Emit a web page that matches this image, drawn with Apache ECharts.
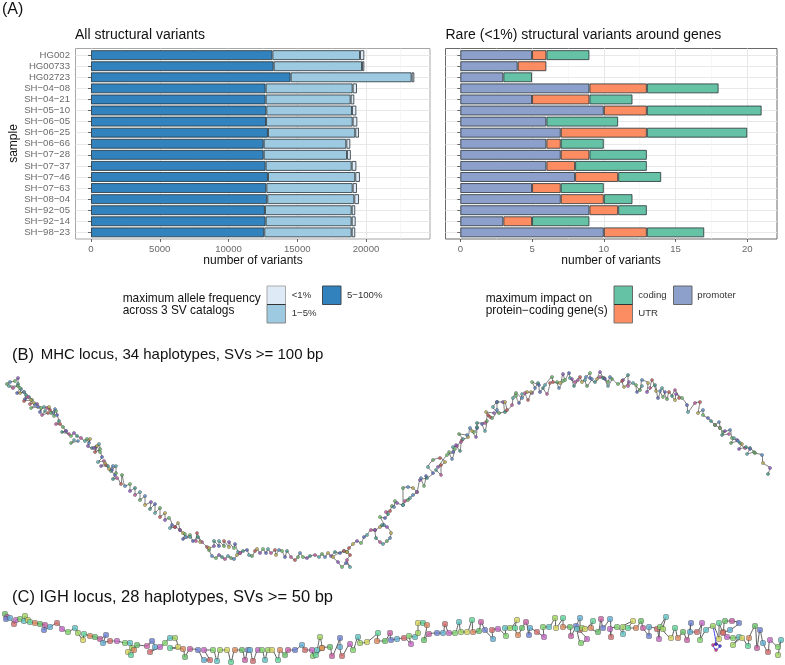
<!DOCTYPE html>
<html><head><meta charset="utf-8">
<style>html,body{margin:0;padding:0;background:#fff}#c{width:785px;height:665px}</style>
<script src="https://cdn.jsdelivr.net/npm/echarts@6/dist/echarts.min.js"></script>
</head><body><div id="c"></div>
<script>
const samples = ['HG002','HG00733','HG02723','SH−04−08','SH−04−21','SH−05−10','SH−06−05','SH−06−25','SH−06−66','SH−07−28','SH−07−37','SH−07−46','SH−07−63','SH−08−04','SH−92−05','SH−92−14','SH−98−23'];
const afCommon = [13190,13285,14520,12700,12700,12750,12730,12870,12560,12560,12700,12870,12750,12820,12650,12700,12600];
const afMid    = [6375,6425,8800,6330,6185,6230,6300,6350,6010,6060,6260,6350,6280,6330,6310,6260,6360];
const afRare   = [315,170,195,315,265,320,340,270,290,280,340,340,315,340,260,290,260];
const impPromoter = [5,4,3,9,5,10,6,7,6,7,6,8,5,7,9,3,10];
const impUtr      = [1,2,null,4,4,3,null,6,1,2,2,3,2,3,2,2,3];
const impCoding   = [3,null,2,5,3,8,5,7,3,4,5,3,3,2,2,4,4];
const allTicks = [0,5000,10000,15000,20000];
const allMinor = [2500,7500,12500,17500,22500];
const rareTicks = [0,5,10,15,20];
const rareMinor = [2.5,7.5,12.5,17.5];

// Panel B: node positions of the MHC graph layout
const mhcMain = [[7,384],[10,382],[15,381],[18,378],[18,384],[13,388],[9,386],[18,386],[21,389],[20,393],[24,392],[26,395],[25,399],[29,397],[32,400],[30,404],[34,403],[37,404],[41,408],[40,412],[44,407],[47,408],[50,410],[49,407],[53,413],[56,411],[57,415],[59,421],[56,424],[60,424],[63,427],[66,431],[71,436],[74,433],[77,436],[81,438],[85,441],[87,439],[89,443],[90,439],[88,446],[92,448],[96,447],[99,444],[100,449],[95,452],[97,446],[94,448],[100,452],[102,457],[98,462],[104,461],[106,465],[109,469],[113,466],[111,471],[115,475],[113,479],[117,478],[121,484],[122,475],[125,486],[130,484],[130,491],[135,488],[135,495],[140,492],[140,500],[145,496],[145,505],[151,502],[150,509],[155,504],[155,513],[160,508],[160,517],[165,513],[165,520],[169,518],[172,525],[170,528],[175,527],[180,530],[183,533],[186,537],[190,535],[193,541],[198,537],[202,542],[207,547],[209,550],[212,556],[216,558],[219,555],[222,557],[225,559],[228,556],[231,558],[234,559],[237,555],[240,553],[243,551],[247,550],[249,555],[252,556],[255,551],[257,549],[260,553],[263,549],[266,553],[268,549],[271,553],[275,550],[276,555],[279,550],[282,551],[285,557],[287,551],[291,557],[295,560],[298,557],[300,553],[303,557],[307,558],[310,556],[315,555],[319,557],[322,554],[325,557],[328,553],[331,556],[335,552],[340,553],[344,551],[347,552],[349,548],[353,544],[357,541],[361,543],[364,537],[367,535],[371,530],[375,530],[380,527],[384,525],[380,517],[385,518],[388,514],[386,512],[390,511],[392,506],[394,507],[395,501],[397,503],[403,505],[405,501],[410,498],[408,500],[413,495],[417,492],[420,480],[427,478],[433,473],[428,467],[433,460],[440,458],[445,462],[438,467],[447,455],[453,452],[453,447],[457,446],[462,440],[468,437],[470,428],[474,432],[477,428],[477,423],[485,423],[488,415],[492,418],[497,410],[497,402],[503,402],[505,412],[512,405],[513,398],[516,393],[522,398],[527,392],[532,393],[538,383],[540,392],[545,385],[552,377],[553,382],[560,383],[563,374],[565,380],[569,373],[570,378],[575,382],[580,377],[582,382],[586,377],[590,373],[590,378],[595,382],[600,377],[604,378],[608,382],[610,377],[618,384],[623,380],[628,375],[628,386],[633,383],[640,390],[642,380],[648,383],[647,392],[655,385],[658,398],[662,388],[667,399],[669,392],[675,400],[676,394],[682,398],[687,405],[688,412],[695,403],[700,402],[698,413],[703,410],[703,415],[708,418],[711,421],[715,425],[720,428],[723,432],[730,430],[732,438],[737,440],[740,443],[745,448],[750,448],[755,453],[762,455],[763,463],[770,468],[768,474]];
const mhcBubbleTop = [[209,548],[214,546],[214,541],[219,546],[219,541],[224,546],[224,541],[229,547],[229,542],[234,548],[235,544],[238,552],[240,553]];
const mhcRingLow = [[344,551],[333,557],[338,562],[342,567],[346,563],[350,567],[347,560],[350,555],[347,552]];
const mhcRingHigh = [[375,530],[376,538],[380,542],[383,544],[387,541],[390,538],[391,533],[387,527],[382,525]];
const mhcLoopMid = [[403,505],[403,488],[408,487],[413,488],[417,492]];
const mhcCluster = [[497,402],[493,407],[499,413],[507,410],[505,402]];
const mhcHairpins = [
  [[20,388],[17,393],[24,392]],[[28,397],[24,401],[31,400]],[[35,405],[31,408],[38,407]],[[45,411],[42,415],[48,413]],[[51,413],[55,409],[54,416]],
  [[66,431],[62,432],[69,434]],[[74,440],[71,443],[78,441]],[[105,463],[101,466],[108,466]],[[112,470],[116,466],[116,473]],
  [[175,527],[178,523],[180,530]],[[185,534],[183,539],[190,537]],[[196,541],[197,533],[200,542]],
  [[421,478],[424,486],[426,476]],[[436,470],[441,475],[441,465]],[[449,452],[452,459],[455,449]],[[456,445],[460,451],[461,442]],
  [[463,439],[459,434],[467,435]],[[472,431],[476,437],[477,427]],[[482,424],[485,431],[487,421]],[[490,417],[486,412],[494,413]],
  [[516,396],[519,403],[522,394]],[[525,393],[528,400],[531,392]],[[535,388],[532,382],[539,385]],[[543,388],[547,394],[550,383]],
  [[557,382],[559,388],[563,381]],[[572,379],[574,386],[578,380]],[[585,380],[587,386],[592,379]],[[597,379],[600,372],[603,378]],
  [[605,379],[608,386],[612,379]],[[622,381],[624,387],[629,382]],[[636,385],[637,392],[642,386]],[[650,388],[652,380],[656,391]],
  [[660,391],[663,397],[665,392]],[[672,396],[675,390],[679,398]],
  [[715,425],[719,422],[720,428]],[[725,431],[722,435],[729,434]],[[734,438],[731,443],[738,441]],[[742,444],[739,449],[746,447]],[[750,449],[747,454],[754,452]]
];

// Panel C: node positions of the IGH graph layout
const ighMain = [[5,614],[7,617],[6,619],[10,618],[14,624],[16,620],[20,619],[24,621],[25,616],[28,620],[30,622],[35,623],[40,624],[45,625],[44,630],[50,627],[57,623],[62,629],[68,632],[75,628],[78,633],[83,640],[84,634],[90,636],[95,637],[100,639],[106,635],[103,643],[110,641],[117,641],[125,643],[130,643],[132,648],[128,652],[131,655],[134,650],[137,645],[147,646],[152,641],[155,647],[150,652],[160,647],[165,643],[170,638],[175,638],[178,647],[170,648],[183,649],[185,657],[190,649],[198,650],[204,660],[210,660],[204,650],[213,650],[217,661],[220,650],[227,650],[231,662],[235,650],[242,650],[245,660],[248,650],[250,650],[253,661],[258,650],[262,650],[265,660],[268,650],[272,650],[278,660],[280,650],[285,655],[288,650],[295,650],[302,645],[305,650],[312,650],[313,656],[317,650],[320,637],[322,648],[316,655],[322,648],[330,647],[332,656],[340,638],[340,647],[342,656],[350,644],[353,650],[358,637],[360,643],[367,642],[378,633],[377,641],[385,641],[390,633],[391,640],[397,639],[404,638],[411,644],[409,636],[415,637],[418,633],[418,623],[423,623],[427,625],[424,640],[429,634],[437,633],[443,633],[445,624],[449,633],[455,633],[459,622],[461,632],[467,632],[472,620],[473,632],[479,631],[481,622],[485,630],[493,639],[492,630],[498,629],[506,636],[505,628],[510,628],[517,620],[515,628],[518,635],[522,628],[526,622],[529,635],[530,628],[537,632],[544,637],[543,627],[549,627],[555,618],[556,628],[563,618],[563,627],[570,627],[571,636],[576,626],[580,618],[580,630],[587,639],[581,643],[577,629],[582,628],[585,629],[593,621],[591,628],[598,632],[601,619],[603,628],[610,619],[611,637],[610,629],[617,627],[623,634],[623,627],[633,621],[628,628],[636,628],[641,621],[643,628],[649,636],[649,627],[657,629],[659,639],[660,627],[666,617],[663,629],[671,638],[675,628],[678,638],[683,632],[687,640],[691,623],[690,632],[697,632],[702,623],[700,640],[706,630],[713,626],[719,639],[719,623],[723,632],[725,621],[732,621],[739,623],[730,630],[723,633],[727,637],[733,638],[739,637],[733,645],[742,638],[748,646],[749,638],[755,626],[757,648],[760,630],[763,643],[768,652],[770,640],[778,647],[781,640],[778,655]];
const ighBlue = [[713,626],[716,644],[713,645],[716,650],[720,646],[716,644]];

const nodeColorsB = ['#5fb05f','#8f55c8','#55b0b0','#c0b048','#5566c8','#c85555','#66c466','#c855a5','#5590d0','#3a9a8a'];
const nodeColorsC = ['#66c266','#c766c7','#5fc4c4','#d6d65c','#6c7fd6','#d66c6c','#7fd66c','#e08a5c','#c95fa5','#5fb0d6','#9fd65c','#5fd69a'];

const FONT = '"Liberation Sans", Arial, sans-serif';
const LEFT = {l:75.5, r:430, frame:'#a6a6a6'}, RIGHT = {l:445.5, r:777, frame:'#6a6a6a'}, TOP = 48.5, BOTTOM = 239;
const INSET = 1.1;
function xRange(v0, px0, scale, p){ return {min:v0+(p.l-px0)/scale, max:v0+(p.r-px0)/scale}; }
const allR = xRange(0,91,0.01375,LEFT), rareR = xRange(0,460.3,14.35,RIGHT);

function grids(p){
  return [
    {left:p.l, width:p.r-p.l, top:TOP, height:BOTTOM-TOP, show:true, borderColor:p.frame, borderWidth:1, backgroundColor:'transparent', containLabel:false},
    {left:p.l, width:p.r-p.l, top:TOP+INSET, height:BOTTOM-TOP-2*INSET, containLabel:false}
  ];
}
const xMajor = (grid,r,ticks)=>({type:'value',gridIndex:grid,min:r.min,max:r.max,position:'bottom',
  axisLine:{show:false},
  axisTick:{show:true,length:3,customValues:ticks,lineStyle:{color:'#444',width:0.8}},
  axisLabel:{show:true,customValues:ticks,margin:5,color:'#6a6a6a',fontSize:9.6,fontFamily:FONT,hideOverlap:false,showMinLabel:true,showMaxLabel:true,formatter:(v)=>String(v)},
  splitLine:{show:true,lineStyle:{color:'#e8e8e8',width:1}}});
const xMinor = (grid,r,ticks)=>({type:'value',gridIndex:grid,min:r.min,max:r.max,position:'bottom',
  axisLine:{show:false},axisTick:{show:false,customValues:ticks},axisLabel:{show:false,customValues:ticks},
  splitLine:{show:true,lineStyle:{color:'#f1f1f1',width:0.6}}});
const xHidden = (grid,r)=>({type:'value',gridIndex:grid,min:r.min,max:r.max,show:false,splitLine:{show:false}});
const yCat = (grid,labels)=>({type:'category',gridIndex:grid,inverse:true,data:samples,
  axisLine:{show:false},
  axisTick:{show:true,length:3,alignWithLabel:true,lineStyle:{color:'#444',width:0.8}},
  axisLabel:{show:labels,margin:5.5,color:'#6a6a6a',fontSize:9.6,fontFamily:FONT,interval:0},
  splitLine:{show:true,alignWithLabel:true,interval:0,lineStyle:{color:'#e8e8e8',width:1}}});
const yHidden = (grid)=>({type:'value',gridIndex:grid,show:false,splitLine:{show:false}});

const stroke = 'rgba(35,45,50,0.78)';
const bar = (name,data,color,x,y,stack)=>({name,type:'bar',data,xAxisIndex:x,yAxisIndex:y,stack,barWidth:'90%',
  silent:true,animation:false,itemStyle:{color,borderColor:stroke,borderWidth:1}});

const full = {left:0,top:0,width:785,height:665};
function netLine(data,color,width){
  return {type:'line',data,xAxisIndex:6,yAxisIndex:4,symbol:'none',smooth:0.25,silent:true,animation:false,z:3,
    lineStyle:{color,width},clip:false};
}
function netNodes(data,colors,size,shape,offset){
  return {type:'scatter',data,xAxisIndex:6,yAxisIndex:4,symbol:shape,symbolSize:size,silent:true,animation:false,z:4,clip:false,
    itemStyle:{color:(p)=>colors[(p.dataIndex*7+offset+(p.dataIndex%3))%colors.length],borderColor:'rgba(70,70,70,0.85)',borderWidth:0.6}};
}

function txt(text,x,y,size,opts){
  return Object.assign({type:'text',x,y,silent:true,z:20,style:Object.assign({text,fontSize:size,fontFamily:FONT,fill:'#111',textAlign:'left',textVerticalAlign:'middle'},opts&&opts.style||{})},opts&&opts.props||{});
}
function key(x,y,w,h,fill,edge){
  return {type:'rect',silent:true,z:19,shape:{x,y,width:w,height:h},style:{fill,stroke:edge,lineWidth:1}};
}
const graphicEls = [
  txt('(A)',2,10,16),
  txt('All structural variants',75,35,14),
  txt('Rare (<1%) structural variants around genes',445.5,35,14),
  txt('(B)',12,355,16.5),
  txt('MHC locus, 34 haplotypes, SVs >= 100 bp',40.7,355,15),
  txt('(C) IGH locus, 28 haplotypes, SVs >= 50 bp',12,597,16.5),
  txt('sample',14,143.5,12,{style:{textAlign:'center'},props:{rotation:Math.PI/2}}),
  txt('number of variants',253,261,12,{style:{textAlign:'center'}}),
  txt('number of variants',611,261,12,{style:{textAlign:'center'}}),
  txt('maximum allele frequency',122.7,298.3,11.9),
  txt('across 3 SV catalogs',122.7,311,11.9),
  key(267,286,18.5,18.5,'#DEEBF7','#aaa'), key(267,304.5,18.5,18.5,'#9ECAE1','#888'),
  {type:'line',silent:true,z:20,shape:{x1:267,y1:304.5,x2:285.5,y2:304.5},style:{stroke:'#333',lineWidth:1}},
  key(322.5,286,18.5,18.5,'#3182BD','#3d4a55'),
  txt('<1%',291.7,295,9.6,{style:{fill:'#333'}}), txt('1−5%',291.7,313.7,9.6,{style:{fill:'#333'}}), txt('5−100%',347,295,9.6,{style:{fill:'#333'}}),
  txt('maximum impact on',485.7,298.3,11.9),
  txt('protein−coding gene(s)',485.7,311,11.9),
  key(614,286,18.5,18.5,'#66C2A5','#666'), key(614,304.5,18.5,18.5,'#FC8D62','#777'),
  {type:'line',silent:true,z:20,shape:{x1:614,y1:304.5,x2:632.5,y2:304.5},style:{stroke:'#333',lineWidth:1}},
  key(673.5,286,18.5,18.5,'#8DA0CB','#666'),
  txt('coding',638.3,295,9.6,{style:{fill:'#333'}}), txt('UTR',638.3,313.7,9.6,{style:{fill:'#333'}}), txt('promoter',697.3,295,9.6,{style:{fill:'#333'}})
];

const option = {
  animation:false,
  backgroundColor:'#fff',
  grid:[...grids(LEFT),...grids(RIGHT),full],
  xAxis:[xMajor(0,allR,allTicks),xMinor(0,allR,allMinor),xHidden(1,allR),
         xMajor(2,rareR,rareTicks),xMinor(2,rareR,rareMinor),xHidden(3,rareR),
         {type:'value',gridIndex:4,min:0,max:785,show:false,splitLine:{show:false}}],
  yAxis:[yHidden(0),yCat(1,true),yHidden(2),yCat(3,false),
         {type:'value',gridIndex:4,min:0,max:665,inverse:true,show:false,splitLine:{show:false}}],
  series:[
    bar('5-100%',afCommon,'#3182BD',2,1,'af'),
    bar('1-5%',afMid,'#9ECAE1',2,1,'af'),
    bar('<1%',afRare,'#DEEBF7',2,1,'af'),
    bar('promoter',impPromoter,'#8DA0CB',5,3,'imp'),
    bar('UTR',impUtr,'#FC8D62',5,3,'imp'),
    bar('coding',impCoding,'#66C2A5',5,3,'imp'),
    netLine(mhcMain,'#444',0.7),netLine(mhcBubbleTop,'#444',0.7),netLine(mhcRingLow,'#444',0.7),
    netLine(mhcRingHigh,'#444',0.7),netLine(mhcLoopMid,'#444',0.7),netLine(mhcCluster,'#444',0.7),
    ...mhcHairpins.map(h=>netLine(h,'#444',0.7)),
    netNodes(mhcMain,nodeColorsB,3.2,'circle',0),netNodes(mhcBubbleTop,nodeColorsB,3.2,'circle',3),
    netNodes(mhcRingLow,nodeColorsB,3.2,'circle',5),netNodes(mhcRingHigh,nodeColorsB,3.2,'circle',1),
    netNodes(mhcLoopMid,nodeColorsB,3.2,'circle',2),netNodes(mhcCluster,nodeColorsB,3.2,'circle',4),
    netNodes(mhcHairpins.flat(),nodeColorsB,3,'circle',6),
    netLine(ighMain,'#4a4a4a',0.9),
    netLine(ighBlue,'#2a2af0',0.9),
    netNodes(ighMain,nodeColorsC,5,'roundRect',0),
    netNodes(ighBlue.slice(1),['#e0209a','#3030f0'],3,'circle',0)
  ],
  graphic:{elements:graphicEls}
};
echarts.init(document.getElementById('c'),null,{renderer:'canvas'}).setOption(option);
</script></body></html>
